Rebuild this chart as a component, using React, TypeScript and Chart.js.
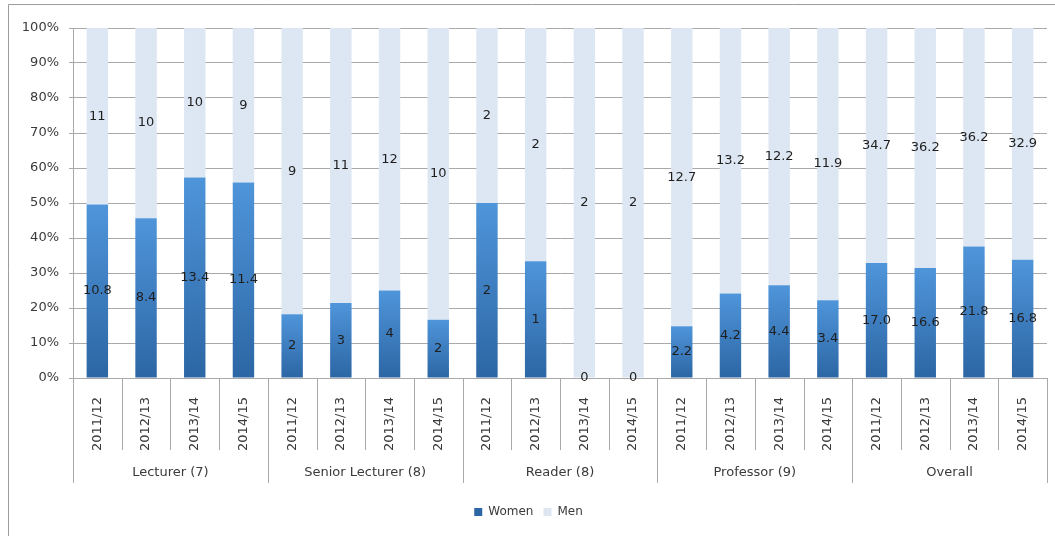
import React, { useEffect, useRef } from "react";
import { Chart, registerables } from "chart.js";

Chart.register(...registerables);

// Staff counts by grade and academic year
const groups = ["Lecturer (7)", "Senior Lecturer (8)", "Reader (8)", "Professor (9)", "Overall"];
const years = ["2011/12", "2012/13", "2013/14", "2014/15"];
const women = [10.8, 8.4, 13.4, 11.4, 2, 3, 4, 2, 2, 1, 0, 0, 2.2, 4.2, 4.4, 3.4, 17.0, 16.6, 21.8, 16.8];
const men = [11, 10, 10, 9, 9, 11, 12, 10, 2, 2, 2, 2, 12.7, 13.2, 12.2, 11.9, 34.7, 36.2, 36.2, 32.9];
// decimals shown in the value labels, per grade
const womenDecimals = [1, 0, 0, 1, 1];
const menDecimals = [0, 0, 0, 1, 1];
const yTicks = [0, 10, 20, 30, 40, 50, 60, 70, 80, 90, 100];

const FONT = "'DejaVu Sans', 'Liberation Sans', sans-serif";
const GRID = "#a9a9a9";
const TEXT = "#3a3a3a";
const MEN_COLOR = "#dde7f3";
const WOMEN_TOP = "#4f95da";
const WOMEN_BOTTOM = "#2c66a4";
const WOMEN_SOLID = "#3b7cc2";

const labels = groups.flatMap(() => years);
const womenPct = women.map((w, i) => (w / (w + men[i])) * 100);
const menPct = men.map((m, i) => (m / (women[i] + men[i])) * 100);
const labelText = (values: number[], decimals: number[]) =>
  values.map((v, i) => v.toFixed(decimals[Math.floor(i / years.length)]));
const womenText = labelText(women, womenDecimals);
const menText = labelText(men, menDecimals);

const PAD_LEFT = 10;
const PAD_RIGHT = 8;
const PAD_TOP = 28;
const PAD_BOTTOM = 8;
const Y_AXIS_WIDTH = 63;
const X_AXIS_HEIGHT = 118;

// Frame, category separators and grade labels under the axis
const groupAxisPlugin = {
  id: "groupAxis",
  beforeDraw(chart: any) {
    const { ctx, width, height } = chart;
    ctx.save();
    ctx.strokeStyle = "#9c9c9c";
    ctx.lineWidth = 1;
    ctx.beginPath();
    ctx.moveTo(8.5, height);
    ctx.lineTo(8.5, 4.5);
    ctx.lineTo(width, 4.5);
    ctx.stroke();
    ctx.restore();
  },
  afterDraw(chart: any) {
    const { ctx, chartArea } = chart;
    const xs = chart.scales.x;
    const n = labels.length;
    const step = xs.getPixelForValue(1) - xs.getPixelForValue(0);
    ctx.save();
    ctx.strokeStyle = GRID;
    ctx.lineWidth = 1;
    for (let i = 0; i <= n; i++) {
      const px = Math.round(xs.getPixelForValue(i) - step / 2) + 0.5;
      const isGroup = i % years.length === 0;
      const bottom = chartArea.bottom + (isGroup ? 105 : 72);
      ctx.beginPath();
      ctx.moveTo(px, chartArea.bottom);
      ctx.lineTo(px, bottom);
      ctx.stroke();
    }
    ctx.fillStyle = TEXT;
    ctx.font = `13px ${FONT}`;
    ctx.textAlign = "center";
    ctx.textBaseline = "middle";
    groups.forEach((g, gi) => {
      const first = xs.getPixelForValue(gi * years.length);
      const last = xs.getPixelForValue(gi * years.length + years.length - 1);
      ctx.fillText(g, (first + last) / 2, chartArea.bottom + 95);
    });
    ctx.restore();
  },
  afterDatasetsDraw(chart: any) {
    const { ctx } = chart;
    const texts = [womenText, menText];
    ctx.save();
    ctx.fillStyle = "#1e1e1e";
    ctx.font = `13px ${FONT}`;
    ctx.textAlign = "center";
    ctx.textBaseline = "middle";
    chart.data.datasets.forEach((_: any, di: number) => {
      const meta = chart.getDatasetMeta(di);
      meta.data.forEach((el: any, i: number) => {
        ctx.fillText(texts[di][i], el.x, (el.y + el.base) / 2);
      });
    });
    ctx.restore();
  },
};

function womenFill(context: any) {
  const chart = context.chart;
  const ys = chart.scales?.y;
  if (context.dataIndex === undefined || !ys || !chart.chartArea) return WOMEN_SOLID;
  const top = ys.getPixelForValue(womenPct[context.dataIndex]);
  const bottom = ys.getPixelForValue(0);
  if (!isFinite(top) || !isFinite(bottom) || bottom - top < 1) return WOMEN_SOLID;
  const g = chart.ctx.createLinearGradient(0, top, 0, bottom);
  g.addColorStop(0, WOMEN_TOP);
  g.addColorStop(1, WOMEN_BOTTOM);
  return g;
}

export default function App() {
  const canvasRef = useRef<HTMLCanvasElement | null>(null);

  useEffect(() => {
    const canvas = canvasRef.current;
    if (!canvas) return;
    const chart = new Chart(canvas, {
      type: "bar",
      data: {
        labels,
        datasets: [
          {
            label: "Women",
            data: womenPct,
            backgroundColor: womenFill,
            borderWidth: 0,
            barPercentage: 0.44,
            categoryPercentage: 1,
          },
          {
            label: "Men",
            data: menPct,
            backgroundColor: MEN_COLOR,
            borderWidth: 0,
            barPercentage: 0.44,
            categoryPercentage: 1,
          },
        ],
      },
      options: {
        responsive: false,
        animation: false,
        layout: {
          padding: { left: PAD_LEFT, right: PAD_RIGHT, top: PAD_TOP, bottom: PAD_BOTTOM },
        },
        plugins: {
          tooltip: { enabled: false },
          legend: {
            position: "bottom",
            labels: {
              boxWidth: 8,
              boxHeight: 8,
              padding: 10,
              color: TEXT,
              font: { family: FONT, size: 12 },
            },
          },
        },
        scales: {
          x: {
            stacked: true,
            grid: { display: false },
            border: { display: false },
            afterFit: (scale: any) => {
              scale.height = X_AXIS_HEIGHT;
            },
            ticks: {
              autoSkip: false,
              minRotation: 90,
              maxRotation: 90,
              padding: 11,
              color: TEXT,
              font: { family: FONT, size: 13 },
            },
          },
          y: {
            stacked: true,
            min: 0,
            max: 100,
            afterFit: (scale: any) => {
              scale.width = Y_AXIS_WIDTH;
            },
            afterBuildTicks: (scale: any) => {
              scale.ticks = yTicks.map((v) => ({ value: v }));
            },
            grid: { color: GRID, tickLength: 4 },
            border: { color: GRID },
            ticks: {
              padding: 10,
              color: TEXT,
              font: { family: FONT, size: 13 },
              callback: (v: any) => `${v}%`,
            },
          },
        },
      },
      plugins: [groupAxisPlugin],
    });
    return () => chart.destroy();
  }, []);

  return (
    <canvas
      ref={canvasRef}
      width={1055}
      height={536}
      style={{ position: "fixed", left: 0, top: 0, width: 1055, height: 536, background: "#fff" }}
    />
  );
}
